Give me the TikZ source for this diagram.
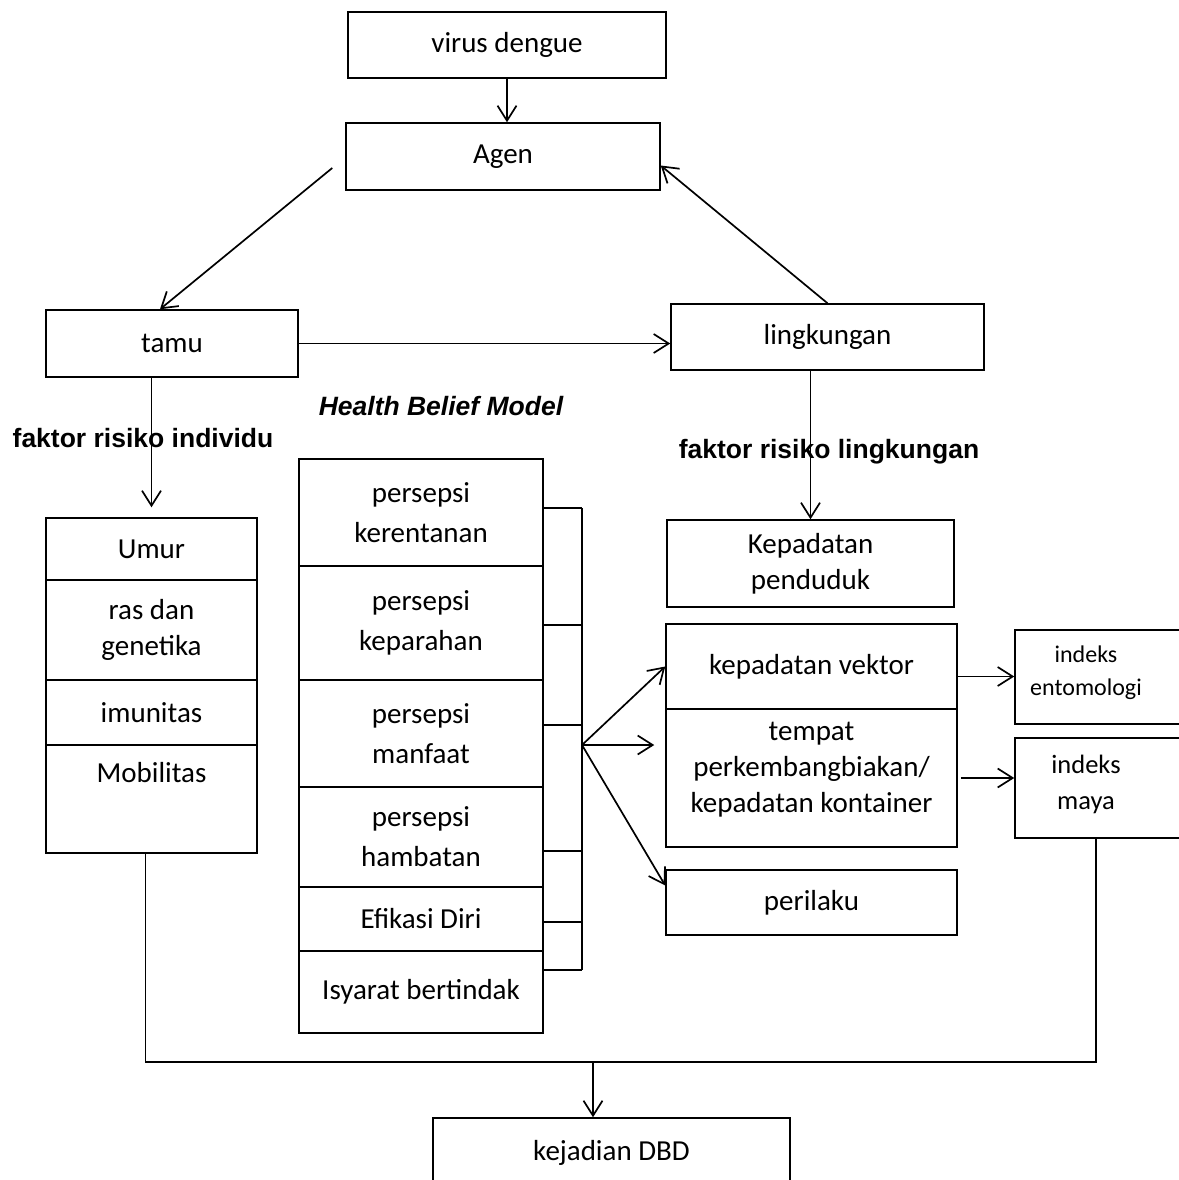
\documentclass[tikz,border=0pt]{standalone}
\usepackage{fontspec}
\setmainfont{Carlito}
\setsansfont{Liberation Sans}
\usetikzlibrary{arrows.meta}

\begin{document}
\begin{tikzpicture}[x=1pt,y=-1pt,
    >={Straight Barb[length=15pt,width=19pt]},
    line/.style={line width=1.7pt},
    arr/.style={line,->},
    box/.style={draw,line width=1.5pt,inner sep=0pt,align=center,font=\fontsize{29}{36}\selectfont},
    hbm/.style={box,minimum width=244pt,font=\fontsize{29}{40}\selectfont},
    lbl/.style={font=\fontsize{26.5}{32}\sffamily\bfseries}]
      \useasboundingbox (0,0) rectangle (1178,1180);
      \node[box,minimum width=318pt,minimum height=66pt] (virus) at (507,45) {virus dengue};
      \node[box,minimum width=314pt,minimum height=67pt] (agen) at (503,156.5) {Agen};
      \node[box,minimum width=252pt,minimum height=67pt] (tamu) at (172,343.5) {tamu};
      \node[box,minimum width=313pt,minimum height=66pt] (lingk) at (827.5,337) {lingkungan};
      \node[lbl] (hbmlbl) at (441,406) {\itshape Health Belief Model};
      \node[lbl] (indlbl) at (143,438) {faktor risiko individu};
      \node[lbl] (lnglbl) at (829,452) {faktor risiko lingkungan};
      %
      \node[box,minimum width=211pt,minimum height=62pt] (umur) at (151.5,549) {Umur};
      \node[box,minimum width=211pt,minimum height=100pt] (ras) at (151.5,630) {ras dan\\genetika};
      \node[box,minimum width=211pt,minimum height=65pt] (imun) at (151.5,712.5) {imunitas};
      \node[box,minimum width=211pt,minimum height=108pt,text depth=54pt] (mob) at (151.5,799) {Mobilitas};
      %
      \node[hbm,minimum height=107pt] (hbm1) at (421,512.5) {persepsi\\kerentanan};
      \node[hbm,minimum height=114pt] (hbm2) at (421,623) {persepsi\\keparahan};
      \node[hbm,minimum height=107pt] (hbm3) at (421,733.5) {persepsi\\manfaat};
      \node[hbm,minimum height=100pt] (hbm4) at (421,837) {persepsi\\hambatan};
      \node[hbm,minimum height=64pt] (hbm5) at (421,919) {Efikasi Diri};
      \node[hbm,minimum height=82pt] (hbm6) at (421,992) {Isyarat bertindak};
      %
      \node[box,minimum width=287pt,minimum height=87pt] (pend) at (810.5,563.5) {Kepadatan\\penduduk};
      \node[box,minimum width=291pt,minimum height=85pt] (vek) at (811.5,666.5) {kepadatan vektor};
      \node[box,minimum width=291pt,minimum height=138pt,text depth=22pt] (tempat) at (811.5,778) {tempat\\perkembangbiakan/\\kepadatan kontainer};
      \node[box,minimum width=291pt,minimum height=65pt] (peri) at (811.5,902.5) {perilaku};
      \node[box,minimum width=185pt,minimum height=94pt] (ent) at (1107.5,677) {};
      \node[font=\fontsize{24}{33}\selectfont,align=center] (enttxt) at (1086,673) {indeks\\entomologi};
      \node[box,minimum width=185pt,minimum height=100pt] (maya) at (1107.5,788) {};
      \node[font=\fontsize{26.5}{36}\selectfont,align=center] (mayatxt) at (1086,784) {indeks\\maya};
      \node[box,minimum width=357pt,minimum height=70pt] (dbd) at (611.5,1153) {kejadian DBD};
      %
      \draw[arr] (virus.south) -- (virus.south |- agen.north);
      \draw[arr] ([xshift=-13pt,yshift=-11.5pt]agen.west) -- ([xshift=-12pt]tamu.north);
      \draw[arr] (lingk.north) -- ([yshift=-9pt]agen.east);
      \draw[arr] (tamu.east) -- (tamu.east -| lingk.west);
      \draw[arr] (tamu.south -| umur.north) -- ([yshift=10pt]umur.north);
      \draw[arr] (lingk.south -| pend.north) -- (pend.north);
      %
      \coordinate (brk) at (582,745);
      \draw[line] (brk |- 0,508) -- (brk |- 0,970);
      \foreach \y in {508,625,725,851,922,970}
        \draw[line] (hbm1.east |- 0,\y) -- (brk |- 0,\y);
      \draw[arr] (brk) -- (vek.west);
      \draw[arr] (brk) -- ([xshift=-11pt]brk -| tempat.west);
      \draw[arr] (brk) -- ([yshift=17pt]peri.west);
      \draw[arr] ([yshift=-10pt]vek.east) -- ([yshift=-10pt]vek.east -| ent.west);
      \draw[arr] ([xshift=3pt]tempat.east) -- (tempat.east -| maya.west);
      %
      \coordinate (join) at (593,1062);
      \draw[line] ([xshift=-6pt]mob.south) |- (join) -| ([xshift=82pt]maya.south west);
      \draw[arr] (join) -- (join |- dbd.north);
\end{tikzpicture}
\end{document}
